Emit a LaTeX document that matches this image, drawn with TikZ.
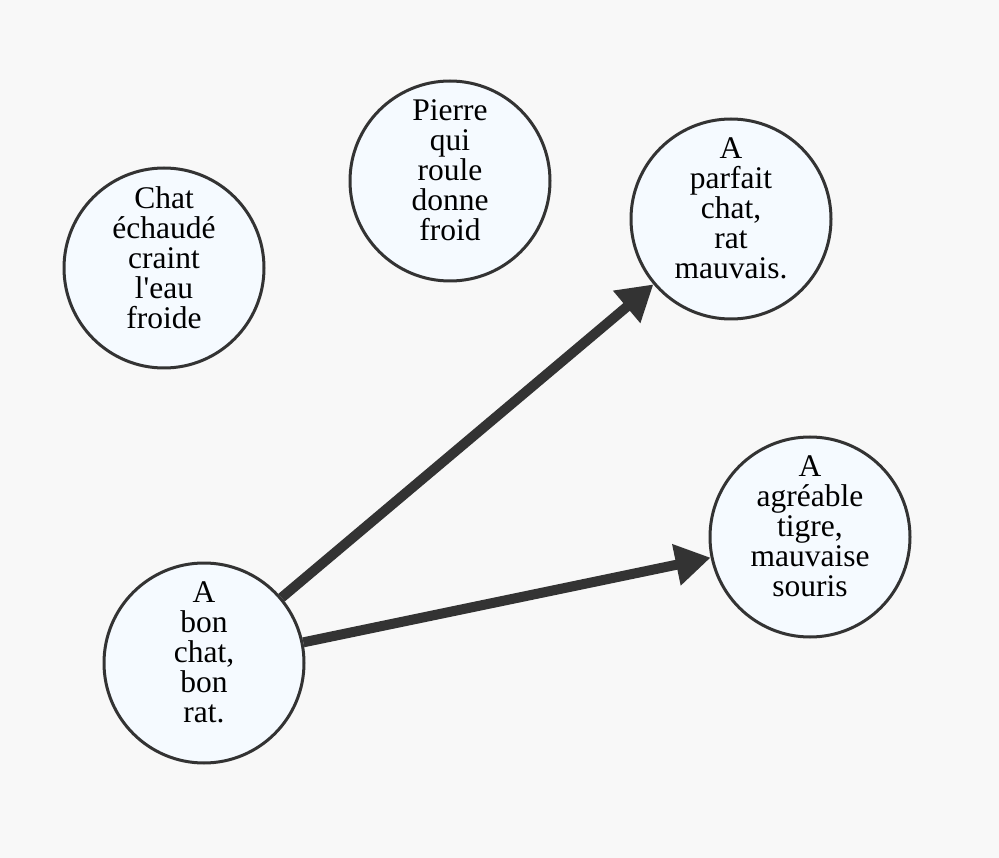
\documentclass[tikz,border=0pt]{standalone}
\usepackage{fontspec}
\setmainfont{Liberation Serif}[Ligatures=TeXOff]
\usetikzlibrary{arrows.meta}
\definecolor{bg}{HTML}{F8F8F8}
\definecolor{nodefill}{HTML}{F5FAFF}
\definecolor{ink}{HTML}{333333}
\begin{document}
\begin{tikzpicture}[x=1pt,y=-1pt,
  bubble/.style={circle,draw=ink,line width=3pt,fill=nodefill,minimum size=200pt,inner sep=0pt},
  txt/.style={align=center,font=\fontsize{31.5}{30}\selectfont,inner sep=0pt,text=black},
  link/.style={draw=ink,line width=10pt,-{Triangle[length=35pt,width=40pt]}}]
\fill[bg] (0,0) rectangle (999,858);
\useasboundingbox (0,0) rectangle (999,858);
\node[bubble] (chat) at (164,268) {};
\node[bubble] (pierre) at (450,181) {};
\node[bubble] (parfait) at (731,219) {};
\node[bubble] (agreable) at (810,537) {};
\node[bubble] (bon) at (204,663) {};
\node[txt] (tchat) at (164,257.5) {Chat\\échaudé\\craint\\l'eau\\froide};
\node[txt] (tpierre) at (450,170.5) {Pierre\\qui\\roule\\donne\\froid};
\node[txt] (tparfait) at (731,208.5) {A\\parfait\\chat,\\rat\\mauvais.};
\node[txt] (tagreable) at (810,526.5) {A\\agréable\\tigre,\\mauvaise\\souris};
\node[txt] (tbon) at (204,652.5) {A\\bon\\chat,\\bon\\rat.};
\draw[link] (bon) -- (parfait);
\draw[link] (bon) -- (agreable);
\end{tikzpicture}
\end{document}
